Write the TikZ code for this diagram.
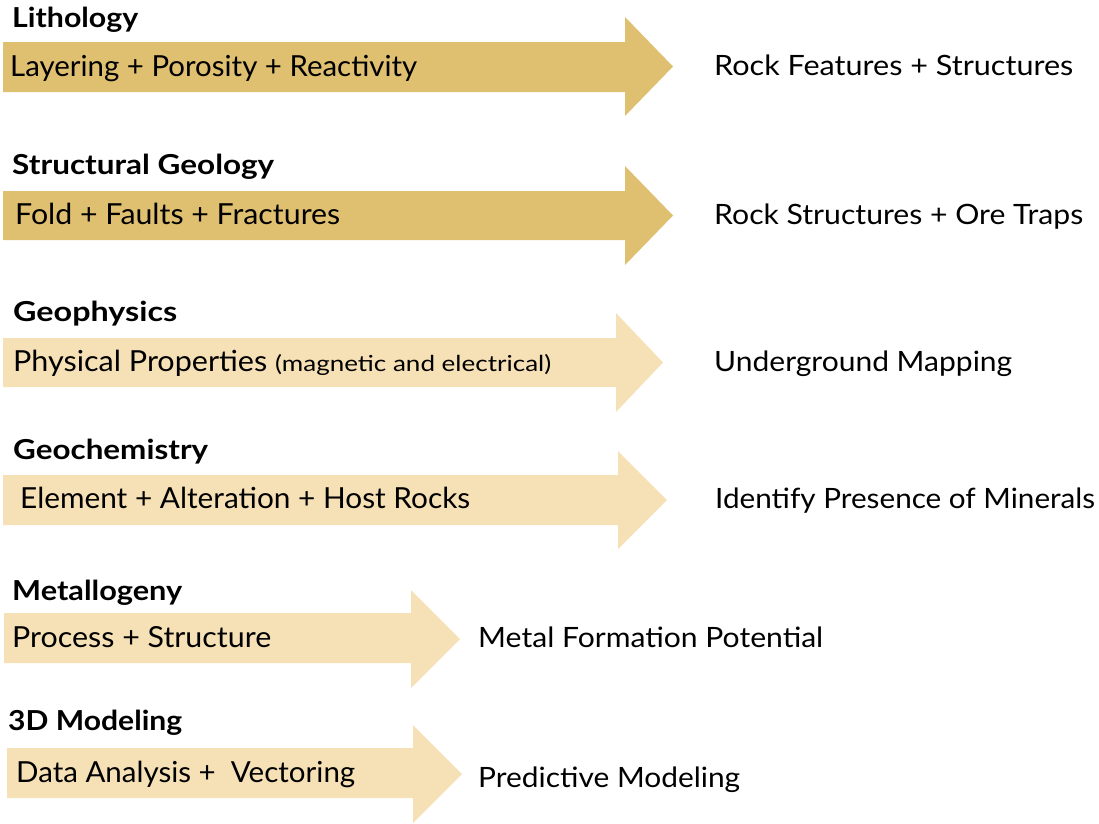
\documentclass[tikz,border=0pt]{standalone}
\usepackage{fontspec}
\usepackage{graphicx}
\setmainfont{Lato}
\definecolor{darkgold}{HTML}{DFBF70}
\definecolor{lightgold}{HTML}{F6E0B5}
\newcommand{\fitto}[2]{\resizebox{#1}{\height}{#2}}
\tikzset{
  x=1pt, y=-1pt,
  txt/.style={anchor=base west, inner sep=0pt, font=\fontsize{29}{34}\selectfont},
  rtxt/.style={anchor=base west, inner sep=0pt, font=\fontsize{28}{34}\selectfont},
  lbl/.style={anchor=base west, inner sep=0pt, font=\fontsize{27.5}{32}\selectfont\bfseries},
}
% body left, head start, tip x, body top, body bottom, head top, head bottom, color
\newcommand{\bigarrow}[8]{%
  \fill[#8] (#1,#4) -- (#2,#4) -- (#2,#6) -- (#3,{(#6+#7)/2}) -- (#2,#7) -- (#2,#5) -- (#1,#5) -- cycle;}
\begin{document}
\begin{tikzpicture}
\useasboundingbox (0,0) rectangle (1099,823);
\bigarrow{3}{625}{673}{42}{92}{17}{116}{darkgold}
\bigarrow{3}{625}{673}{191}{240}{166}{265}{darkgold}
\bigarrow{3}{616}{663}{338}{387}{313}{412}{lightgold}
\bigarrow{3}{618}{667}{475}{525}{451}{549}{lightgold}
\bigarrow{4}{411}{460}{613}{663}{590}{688}{lightgold}
\bigarrow{7}{413}{462}{748}{798}{725}{823}{lightgold}

\node[lbl] (l1) at (12,27) {\fitto{126pt}{Lithology}};
\node[lbl] (l2) at (12,174) {\fitto{262pt}{Structural Geology}};
\node[lbl] (l3) at (13,321) {\fitto{164pt}{Geophysics}};
\node[lbl] (l4) at (13,459) {\fitto{195pt}{Geochemistry}};
\node[lbl] (l5) at (12,600) {\fitto{170pt}{Metallogeny}};
\node[lbl] (l6) at (8,730) {\fitto{174pt}{3D Modeling}};

\node[txt] (b1) at (10,76) {\fitto{407pt}{Layering + Porosity + Reactivity}};
\node[txt] (b2) at (15,224) {\fitto{325pt}{Fold + Faults + Fractures}};
\node[txt] (b3) at (13,371) {\fitto{254pt}{Physical Properties}};
\node[anchor=base west, inner sep=0pt, font=\fontsize{22}{26}\selectfont] (b3b) at (275,371) {\fitto{276pt}{(magnetic and electrical)}};
\node[txt] (b4) at (20,508) {\fitto{450pt}{Element + Alteration + Host Rocks}};
\node[txt] (b5) at (12,647) {\fitto{259pt}{Process + Structure}};
\node[txt] (b6) at (16,782) {\fitto{339pt}{Data Analysis +\ \ Vectoring}};

\node[rtxt] (r1) at (714,75) {\fitto{359pt}{Rock Features + Structures}};
\node[rtxt] (r2) at (714,224) {\fitto{369pt}{Rock Structures + Ore Traps}};
\node[rtxt] (r3) at (714,371) {\fitto{298pt}{Underground Mapping}};
\node[rtxt] (r4) at (715,508) {\fitto{380pt}{Identify Presence of Minerals}};
\node[rtxt] (r5) at (478,647) {\fitto{345pt}{Metal Formation Potential}};
\node[rtxt] (r6) at (478,787) {\fitto{262pt}{Predictive Modeling}};
\end{tikzpicture}
\end{document}
